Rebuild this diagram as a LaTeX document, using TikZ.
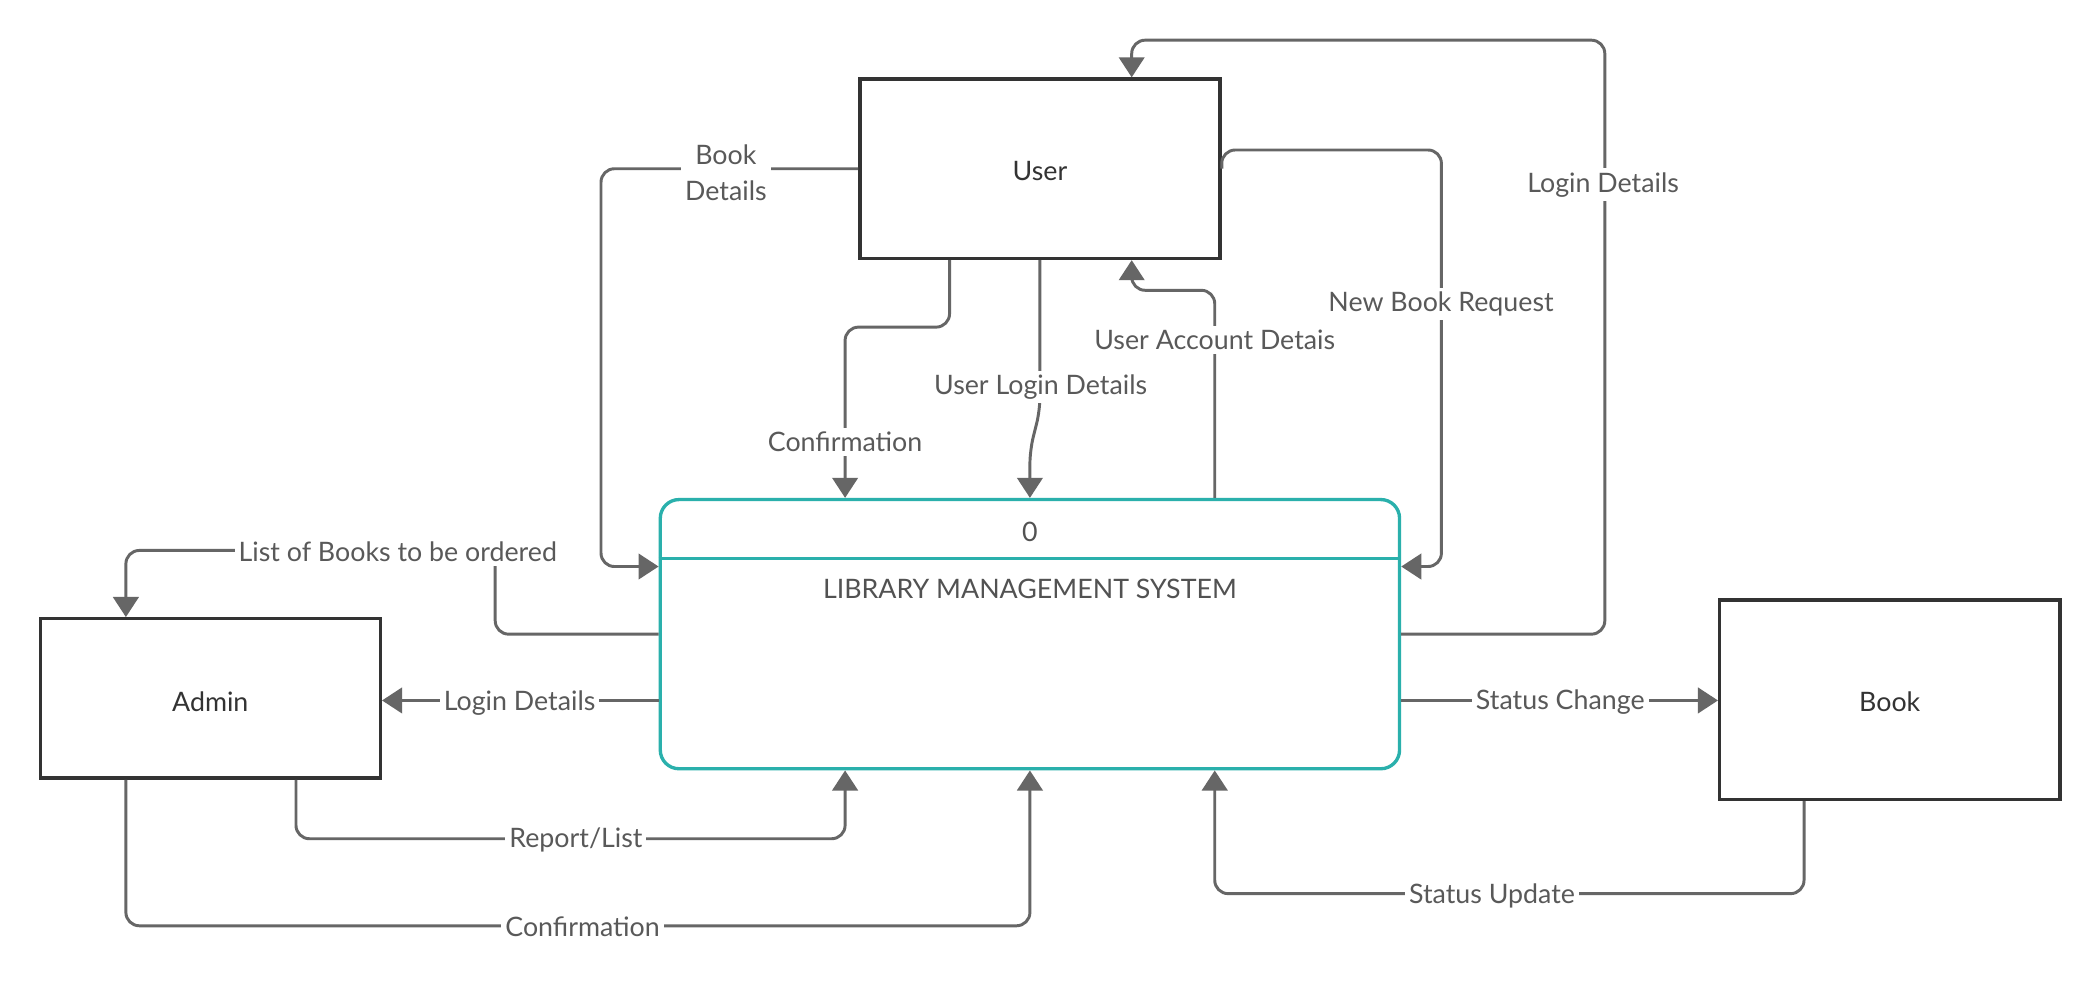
\documentclass[tikz,border=0pt]{standalone}
\usepackage{fontspec}
\setmainfont{Lato}
\usetikzlibrary{arrows.meta}
\definecolor{conn}{HTML}{666666}
\definecolor{boxc}{HTML}{333333}
\definecolor{lmsc}{HTML}{2AB0AC}
\definecolor{lblc}{HTML}{595959}
\begin{document}
\begin{tikzpicture}[x=1pt,y=-1pt,
  ent/.style={draw=boxc, line width=2.5pt, text=boxc, font=\fontsize{20}{24}\selectfont, inner sep=0pt},
  lmsbox/.style={draw=lmsc, line width=2.5pt, rounded corners=14pt, inner sep=0pt},
  flow/.style={draw=conn, line width=2.2pt, rounded corners=10pt, -{Triangle[length=15pt,width=19pt]}},
  lbl/.style={fill=white, text=lblc, font=\fontsize{20}{27}\selectfont, inner sep=3pt, align=center},
  intext/.style={text=boxc!85!white, font=\fontsize{20}{24}\selectfont, inner sep=0pt}]
\useasboundingbox[fill=white] (0,0) rectangle (1568,735.5);

% entities
\node[ent, minimum width=269pt, minimum height=134pt] (user) at (776.5,126) {};
\node[ent, minimum width=254pt, minimum height=119pt] (admin) at (157,521.5) {};
\node[ent, minimum width=254pt, minimum height=149pt] (book) at (1411,522.5) {};
\node[intext, text=boxc] (usert) at (776.5,128) {User};
\node[intext, text=boxc] (admint) at (157,524) {Admin};
\node[intext, text=boxc] (bookt) at (1411,524) {Book};

% process
\node[lmsbox, minimum width=552pt, minimum height=201pt] (lms) at (769,473.5) {};
\draw[draw=lmsc, line width=2.5pt] ([yshift=56.5pt]lms.west) -- ([yshift=56.5pt]lms.east);
\node[intext] (lmsnum) at (769,397) {0};
\node[intext] (lmstitle) at (769,440) {LIBRARY MANAGEMENT SYSTEM};

% flows
\draw[flow] (user.west) -- ++(-192,0) |- ([yshift=50.5pt]lms.west);
\draw[flow] ([xshift=-67.5pt]user.south) -- ++(0,50) -| ([xshift=-138pt]lms.north);
\draw[flow] (user.south) -- ++(0,112) -- ++(-7.5,30) -- (lms.north);
\draw[flow] ([xshift=138pt]lms.north) -- ++(0,-155) -| ([xshift=68.5pt]user.south);
\draw[flow] (user.east) -- ++(0,-14) -- ++(164,0) |- ([yshift=50.5pt]lms.east);
\draw[flow] (lms.east) -- ++(152,0) -- ++(0,-443.5) -| ([xshift=68.5pt]user.north);
\draw[flow] (lms.west) -- ++(-122,0) -- ++(0,-62.5) -| ([xshift=-63pt]admin.north);
\draw[flow] ([yshift=-49.5pt]lms.west) -- ([yshift=-1.5pt]admin.east);
\draw[flow] ([xshift=64pt]admin.south) -- ++(0,44) -| ([xshift=-138pt]lms.south);
\draw[flow] ([xshift=-63pt]admin.south) -- ++(0,109) -| (lms.south);
\draw[flow] ([yshift=-49.5pt]lms.east) -- ([yshift=-0.5pt]book.west);
\draw[flow] ([xshift=-64pt]book.south) -- ++(0,69) -| ([xshift=138pt]lms.south);

% labels
\node[lbl] (l1) at (542,129) {Book\\Details};
\node[lbl] (l2) at (631,330) {Confirmation};
\node[lbl] (l3) at (777,289) {User Login Details};
\node[lbl] (l4) at (907,254) {User Account Detais};
\node[lbl] (l5) at (1076,227) {New Book Request};
\node[lbl] (l6) at (1197,138) {Login Details};
\node[lbl] (l7) at (297,412) {List of Books to be ordered};
\node[lbl] (l8) at (388,525) {Login Details};
\node[lbl] (l9) at (430,627) {Report/List};
\node[lbl] (l10) at (435,692) {Confirmation};
\node[lbl] (l11) at (1165,524) {Status Change};
\node[lbl] (l12) at (1114,669) {Status Update};
\end{tikzpicture}
\end{document}
